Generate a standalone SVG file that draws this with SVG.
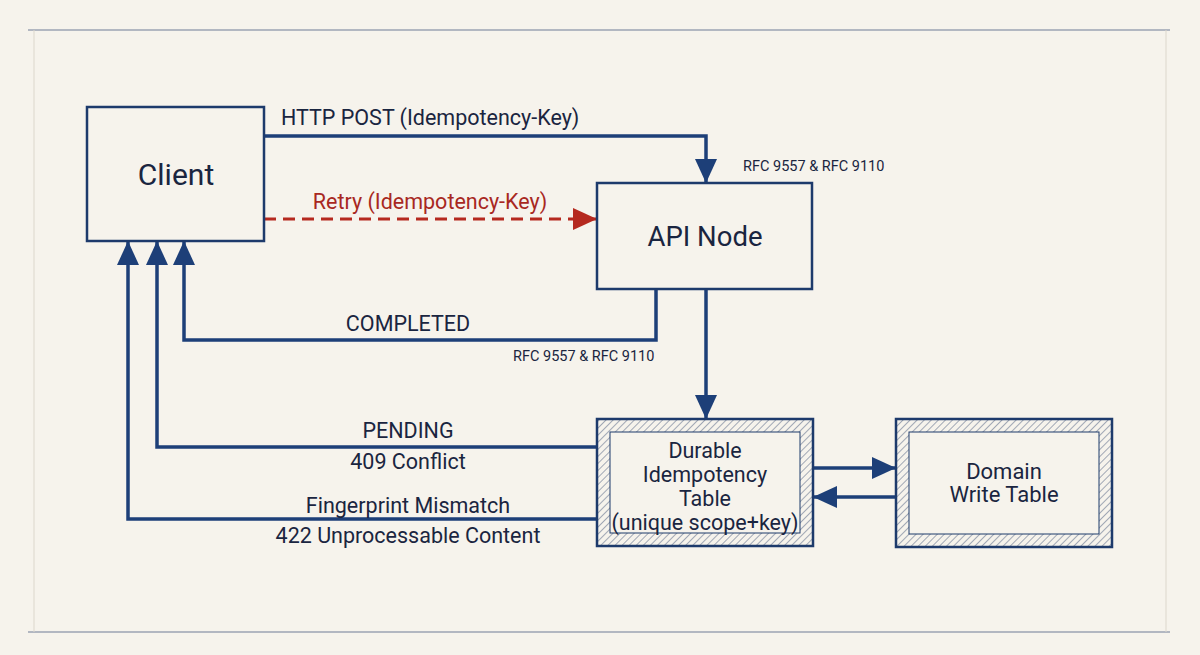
<svg xmlns="http://www.w3.org/2000/svg" width="1200" height="655" viewBox="0 0 1200 655">
<style>
.box{fill:#f6f3ec;stroke:#1d3a6b;stroke-width:2.5}
.inner{fill:#f6f3ec;stroke:#1d3a6b;stroke-width:1}
.t{font-family:Roboto,"Liberation Sans",sans-serif;fill:#1a2540;text-anchor:middle}
.lbl{font-family:Roboto,"Liberation Sans",sans-serif;fill:#1a2540;font-size:21.5px}
.small{font-family:Roboto,"Liberation Sans",sans-serif;fill:#1a2540;font-size:14.5px}
.c{fill:none;stroke:#1d3f78;stroke-width:3.5}
.r{fill:none;stroke:#b5291f;stroke-width:3;stroke-dasharray:12 7}
</style>
<defs>
<marker id="ah" markerUnits="userSpaceOnUse" markerWidth="24" markerHeight="22" refX="24" refY="11" orient="auto"><path d="M0,0 L24,11 L0,22 z" fill="#1d3f78"/></marker>
<marker id="ahr" markerUnits="userSpaceOnUse" markerWidth="24" markerHeight="22" refX="24" refY="11" orient="auto"><path d="M0,0 L24,11 L0,22 z" fill="#b5291f"/></marker>
<pattern id="hatch" patternUnits="userSpaceOnUse" width="5" height="5" patternTransform="rotate(45)"><rect width="5" height="5" fill="#f6f3ec"/><line x1="0" y1="0" x2="0" y2="5" stroke="#3a4d70" stroke-width="0.9"/></pattern>
</defs>
<rect x="0" y="0" width="1200" height="655" fill="#f6f3ec"/>
<g id="frame">
<line x1="28" y1="30" x2="1170" y2="30" stroke="#6f7d96" stroke-width="1.2"/>
<line x1="28" y1="632" x2="1170" y2="632" stroke="#6f7d96" stroke-width="1.2"/>
<line x1="34" y1="30" x2="34" y2="632" stroke="#dcd7cc" stroke-width="1"/>
<line x1="1166" y1="30" x2="1166" y2="632" stroke="#dcd7cc" stroke-width="1"/>
</g>
<g id="connectors">
<path class="c" d="M264,136 H706 V183" marker-end="url(#ah)"/>
<path class="r" d="M264,219 H597" marker-end="url(#ahr)"/>
<path class="c" d="M656,289 V340 H184 V241" marker-end="url(#ah)"/>
<path class="c" d="M597,447 H157 V241" marker-end="url(#ah)"/>
<path class="c" d="M597,519 H128 V241" marker-end="url(#ah)"/>
<path class="c" d="M706,289 V419" marker-end="url(#ah)"/>
<path class="c" d="M813,468 H896" marker-end="url(#ah)"/>
<path class="c" d="M896,497 H813" marker-end="url(#ah)"/>
<text class="lbl" x="281" y="125">HTTP POST (Idempotency-Key)</text>
<text class="small" x="743" y="171">RFC 9557 &amp; RFC 9110</text>
<text class="lbl" x="430" y="209" text-anchor="middle" style="fill:#a8281f">Retry (Idempotency-Key)</text>
<text class="lbl" x="408" y="331" text-anchor="middle">COMPLETED</text>
<text class="small" x="513" y="361">RFC 9557 &amp; RFC 9110</text>
<text class="lbl" x="408" y="438" text-anchor="middle">PENDING</text>
<text class="lbl" x="408" y="469" text-anchor="middle">409 Conflict</text>
<text class="lbl" x="408" y="513" text-anchor="middle">Fingerprint Mismatch</text>
<text class="lbl" x="408" y="543" text-anchor="middle">422 Unprocessable Content</text>
</g>
<g id="client">
<rect class="box" x="87" y="107" width="177" height="134"/>
<text class="t" x="176" y="185" font-size="30">Client</text>
</g>
<g id="api">
<rect class="box" x="597" y="183" width="215" height="106"/>
<text class="t" x="705" y="246" font-size="27.5">API Node</text>
</g>
<g id="durable">
<rect x="597" y="419" width="216" height="127" fill="url(#hatch)" stroke="#1d3a6b" stroke-width="2.5"/>
<rect class="inner" x="610" y="432" width="190" height="101"/>
<text class="t" x="705" y="458" font-size="21.5">Durable</text>
<text class="t" x="705" y="482" font-size="21.5">Idempotency</text>
<text class="t" x="705" y="506" font-size="21.5">Table</text>
<text class="t" x="705" y="530" font-size="21.5">(unique scope+key)</text>
</g>
<g id="domain">
<rect x="896" y="419" width="216" height="128" fill="url(#hatch)" stroke="#1d3a6b" stroke-width="2.5"/>
<rect class="inner" x="909" y="432" width="190" height="102"/>
<text class="t" x="1004" y="479" font-size="22">Domain</text>
<text class="t" x="1004" y="502" font-size="22">Write Table</text>
</g>
</svg>
